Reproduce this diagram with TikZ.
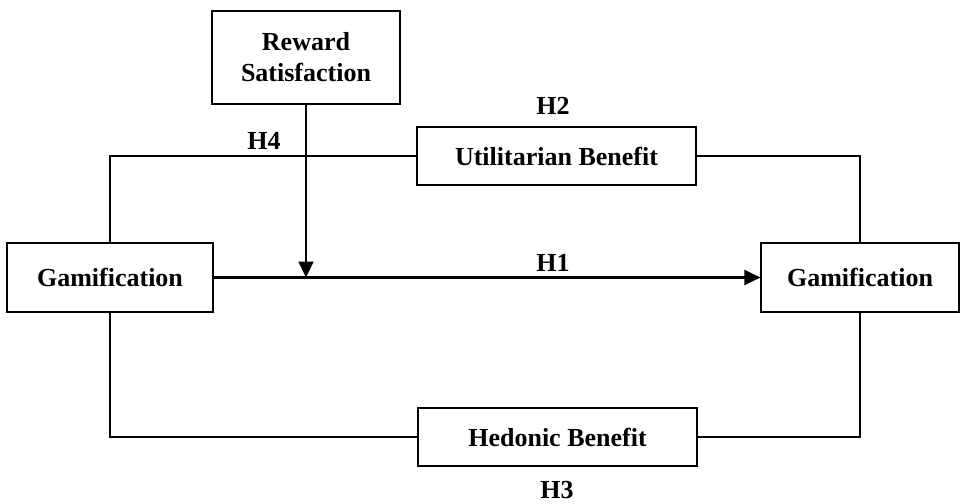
\documentclass[tikz,border=0pt]{standalone}
\usepackage{fontspec}
\setmainfont{Liberation Serif}
\usetikzlibrary{arrows.meta}
\begin{document}
\begin{tikzpicture}[x=1pt,y=-1pt,
  box/.style={draw, line width=1.2pt, rectangle, inner sep=0pt, align=center,
    font=\fontsize{26}{31}\selectfont\bfseries},
  lbl/.style={font=\fontsize{26}{28}\selectfont\bfseries, inner sep=0pt},
  conn/.style={line width=1.3pt},
  arr/.style={line width=2.2pt, -{Triangle[length=16pt,width=15pt]}}]
\useasboundingbox (0,0) rectangle (960,503);
\node[box, minimum width=188pt, minimum height=93pt] (rs) at (306,57.5) {Reward\\Satisfaction};
\node[box, minimum width=279pt, minimum height=58pt] (ub) at (556.5,156) {Utilitarian Benefit};
\node[box, minimum width=206pt, minimum height=69pt] (gl) at (110,277.5) {Gamification};
\node[box, minimum width=198pt, minimum height=69pt] (gr) at (860,277.5) {Gamification};
\node[box, minimum width=279pt, minimum height=58pt] (hb) at (557.5,437) {Hedonic Benefit};
\node[lbl] (h2) at (553,106) {H2};
\node[lbl] (h4) at (264,141) {H4};
\node[lbl] (h1) at (553,263) {H1};
\node[lbl] (h3) at (557,490) {H3};
\coordinate (j) at (306,277.5);
\draw[conn] (gl.north) |- (ub.west);
\draw[conn] (ub.east) -| (gr.north);
\draw[conn] (gl.south) |- (hb.west);
\draw[conn] (hb.east) -| (gr.south);
\draw[arr] (gl.east) -- (gr.west);
\draw[arr] (rs.south) -- (j);
\end{tikzpicture}
\end{document}
